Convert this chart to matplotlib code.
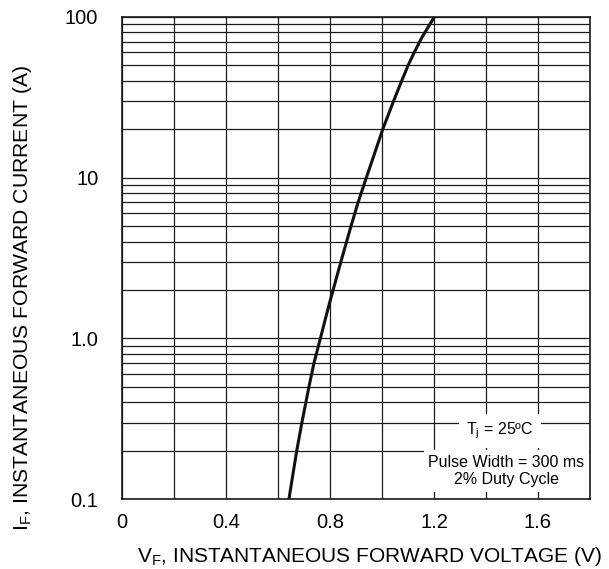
import numpy as np
import matplotlib
matplotlib.use("Agg")
import matplotlib.pyplot as plt
from matplotlib.ticker import LogLocator, FixedLocator, FixedFormatter, NullFormatter

plt.rcParams["font.family"] = ["Liberation Sans", "DejaVu Sans"]

# forward voltage (V) vs forward current (A)
vf = [0.642, 0.672, 0.692, 0.719, 0.738, 0.763, 0.791, 0.812, 0.842,
      0.881, 0.908, 0.940, 0.977, 1.003, 1.045, 1.076, 1.101, 1.124,
      1.155, 1.202]
i_f = [0.1, 0.2, 0.3, 0.5, 0.7, 1.0, 1.5, 2.0, 3.0,
       5.0, 7.0, 10.0, 15.0, 20.0, 30.0, 40.0, 50.0, 60.0,
       75.0, 100.0]

x_ticks = [0, 0.2, 0.4, 0.6, 0.8, 1.0, 1.2, 1.4, 1.6, 1.8]
x_labels = ["0", "", "0.4", "", "0.8", "", "1.2", "", "1.6", ""]
y_ticks = [0.1, 1, 10, 100]
y_labels = ["0.1", "1.0", "10", "100"]

fig = plt.figure(figsize=(6.09, 5.69), dpi=100)
ax = fig.add_axes([0.2003, 0.1225, 0.7685, 0.8482])

ax.set_yscale("log")
ax.set_xlim(0, 1.8)
ax.set_ylim(0.1, 100)

ax.xaxis.set_major_locator(FixedLocator(x_ticks))
ax.xaxis.set_major_formatter(FixedFormatter(x_labels))
ax.yaxis.set_major_locator(FixedLocator(y_ticks))
ax.yaxis.set_major_formatter(FixedFormatter(y_labels))
ax.yaxis.set_minor_locator(LogLocator(base=10, subs=range(2, 10)))
ax.yaxis.set_minor_formatter(NullFormatter())

ax.grid(True, which="both", color="#1a1a1a", linewidth=0.9)
ax.tick_params(which="both", length=0)
ax.tick_params(axis="x", labelsize=14.5, pad=10)
ax.tick_params(axis="y", labelsize=14.5, pad=17)
for s in ax.spines.values():
    s.set_linewidth(1.2)
    s.set_color("#1a1a1a")

ax.plot(vf, i_f, color="#111111", linewidth=2.2, zorder=3)

ax.set_xlabel(r"V$_\mathregular{F}$, INSTANTANEOUS FORWARD VOLTAGE (V)", fontsize=15)
ax.set_ylabel(r"I$_\mathregular{F}$, INSTANTANEOUS FORWARD CURRENT (A)", fontsize=15.2)
ax.xaxis.set_label_coords(0.529, -0.095)
ax.yaxis.set_label_coords(-0.189, 0.416)

ax.text(0.808, 0.1415, r"T$_\mathregular{j}$ = 25ºC", transform=ax.transAxes,
        ha="center", va="center", fontsize=11.5, zorder=4,
        bbox=dict(facecolor="white", edgecolor="none", boxstyle="square,pad=0.45"))
ax.text(0.8216, 0.0586, "Pulse Width = 300 ms\n2% Duty Cycle", transform=ax.transAxes,
        ha="center", va="center", fontsize=11.5, zorder=4, linespacing=1.2,
        bbox=dict(facecolor="white", edgecolor="none", boxstyle="square,pad=0.3"))

fig.savefig("out.png", dpi=100, facecolor="white")
